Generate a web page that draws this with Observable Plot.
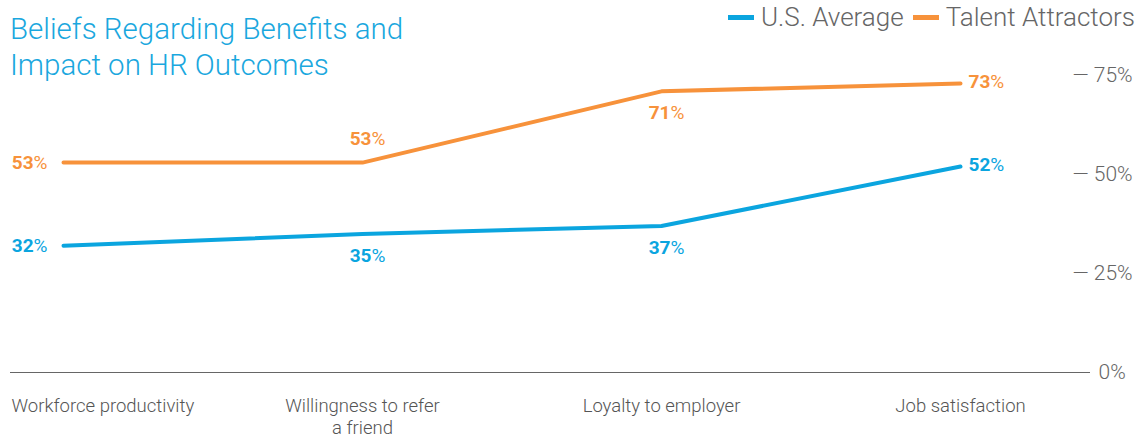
<!DOCTYPE html>
<html>
<head>
<meta charset="utf-8">
<script src="https://cdn.jsdelivr.net/npm/d3@7"></script>
<script src="https://cdn.jsdelivr.net/npm/@observablehq/plot@0.6"></script>
<style>
  body { margin: 0; background: #fff; font-family: Roboto, "Liberation Sans", sans-serif; }
  #wrap { position: relative; width: 1142px; height: 440px; overflow: hidden; }
  #title { position: absolute; left: 10px; top: 11px; font-size: 29.5px; font-weight: 300; color: #1aa7de; line-height: 36px; white-space: nowrap; }
  #legend { position: absolute; right: 7px; top: 2px; font-size: 26px; font-weight: 300; color: #666; display: flex; align-items: center; white-space: nowrap; }
  #legend .sw { display: inline-block; width: 26px; height: 5px; margin-right: 7px; }
  #legend .item { display: flex; align-items: center; margin-left: 9px; }
</style>
</head>
<body>
<div id="wrap">
  <div id="chart"></div>
  <div id="title">Beliefs Regarding Benefits and<br>Impact on HR Outcomes</div>
  <div id="legend"></div>
</div>
<script>
const categories = ["Workforce productivity", "Willingness to refer a friend", "Loyalty to employer", "Job satisfaction"];
const tickLabels = ["Workforce productivity", "Willingness to refer\na friend", "Loyalty to employer", "Job satisfaction"];
const seriesNames = ["U.S. Average", "Talent Attractors"];
const usAverage = [32, 35, 37, 52];
const talentAttractors = [53, 53, 71, 73];
const yTicks = [0, 25, 50, 75];
const colors = ["#0ba5df", "#f7923b"];

const rows = [];
[usAverage, talentAttractors].forEach((vals, s) => {
  vals.forEach((v, i) => rows.push({ category: categories[i], index: i, series: seriesNames[s], value: v }));
});
const ticks = categories.map((c, i) => ({ category: c, label: tickLabels[i], index: i }));

const last = categories.length - 1;
const leftRows = rows.filter(d => d.index === 0);
const rightRows = rows.filter(d => d.index === last);
const aboveRows = rows.filter(d => d.series === seriesNames[1] && d.index === 1);
const belowRows = rows.filter(d => d.index > 0 && d.index < last && !(d.series === seriesNames[1] && d.index === 1));

const labelStyle = { fontSize: 19, fontWeight: "bold", className: "val" };

const chart = Plot.plot({
  width: 1142,
  height: 440,
  marginLeft: 10,
  marginRight: 52,
  marginTop: 75,
  marginBottom: 68,
  style: { fontFamily: "Roboto, 'Liberation Sans', sans-serif", background: "#fff" },
  x: { type: "point", domain: categories, range: [62, 960], padding: 0, axis: null },
  y: { domain: [0, 75], axis: null },
  color: { domain: seriesNames, range: colors },
  marks: [
    Plot.ruleY([0], { stroke: "#666", strokeWidth: 1 }),
    Plot.lineY(rows, { x: "category", y: "value", z: "series", stroke: "series", strokeWidth: 4 }),
    Plot.text(leftRows, { x: "category", y: "value", text: d => d.value + "%", fill: "series", textAnchor: "end", dx: -16, ...labelStyle }),
    Plot.text(rightRows, { x: "category", y: "value", text: d => d.value + "%", fill: "series", textAnchor: "start", dx: 8, dy: -2, ...labelStyle }),
    Plot.text(aboveRows, { x: "category", y: "value", text: d => d.value + "%", fill: "series", dx: 5, dy: -24, ...labelStyle }),
    Plot.text(belowRows, { x: "category", y: "value", text: d => d.value + "%", fill: "series", dx: 5, dy: 22, ...labelStyle }),
    Plot.axisY({ anchor: "right", ticks: yTicks.filter(d => d > 0), label: null, tickSize: 0, tickPadding: 0, dx: -18, textAnchor: "start", tickFormat: d => "— " + d + "%", fontSize: 21, fontWeight: 300, color: "#666" }),
    Plot.axisY({ anchor: "right", ticks: yTicks.filter(d => d === 0), label: null, tickSize: 0, tickPadding: 8, textAnchor: "start", tickFormat: d => d + "%", fontSize: 21, fontWeight: 300, color: "#666" }),
    Plot.text(ticks.filter(d => d.index === 0), { x: "category", y: 0, text: "label", textAnchor: "start", lineAnchor: "top", dx: -52, dy: 24, fontSize: 18.5, fontWeight: 300, fill: "#555", lineHeight: 1.2 }),
    Plot.text(ticks.filter(d => d.index > 0), { x: "category", y: 0, text: "label", textAnchor: "middle", lineAnchor: "top", dy: 24, fontSize: 18.5, fontWeight: 300, fill: "#555", lineHeight: 1.2 })
  ]
});
document.getElementById("chart").appendChild(chart);

// percent sign in regular weight, number in bold
d3.select(chart).selectAll("g.val text").each(function () {
  const t = d3.select(this);
  const s = t.text();
  const num = s.replace("%", "");
  t.text(null);
  t.append("tspan").text(num);
  t.append("tspan").attr("font-weight", 400).text("%");
});

const legend = d3.select("#legend");
seriesNames.forEach((n, i) => {
  const item = legend.append("div").attr("class", "item");
  item.append("span").attr("class", "sw").style("background", colors[i]);
  item.append("span").text(n);
});
</script>
</body>
</html>
